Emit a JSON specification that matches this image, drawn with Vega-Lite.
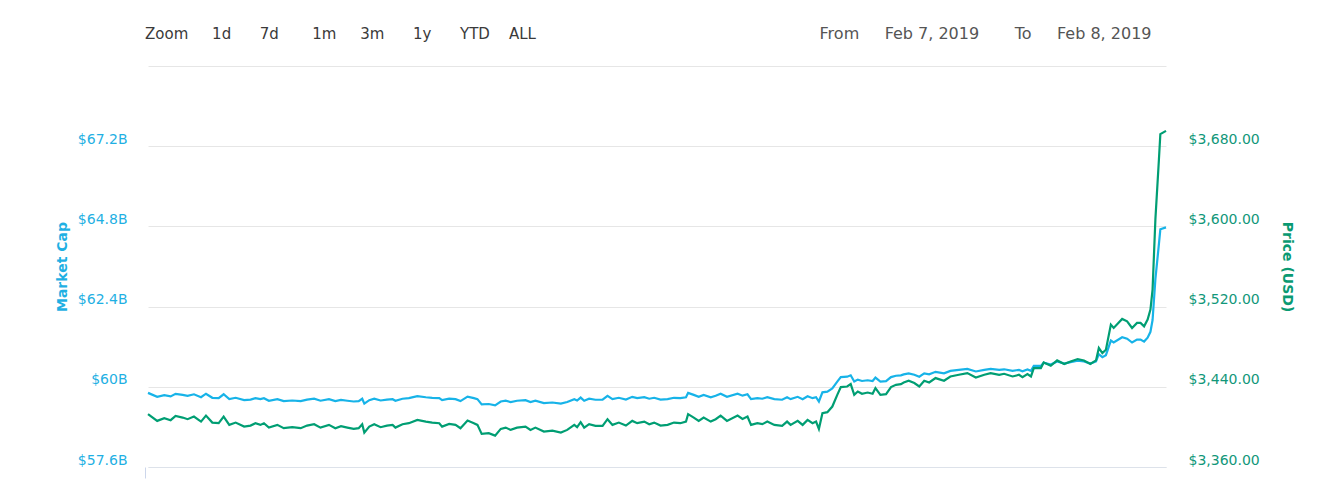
{
  "$schema": "https://vega.github.io/schema/vega-lite/v6.json",
  "width": 1018,
  "height": 401,
  "padding": {"left": 55, "top": 25, "right": 5, "bottom": 5},
  "background": "white",
  "config": {"view": {"stroke": null}, "font": "DejaVu Sans"},
  "title": {
    "text": "Zoom\u00a0\u00a0\u00a0\u00a0\u00a01d\u00a0\u00a0\u00a0\u00a0\u00a0\u00a07d\u00a0\u00a0\u00a0\u00a0\u00a0\u00a0\u00a01m\u00a0\u00a0\u00a0\u00a0\u00a03m\u00a0\u00a0\u00a0\u00a0\u00a0\u00a01y\u00a0\u00a0\u00a0\u00a0\u00a0\u00a0YTD\u00a0\u00a0\u00a0\u00a0ALL",
    "anchor": "start",
    "frame": "group",
    "offset": -17,
    "dx": -3,
    "font": "DejaVu Sans",
    "fontSize": 15,
    "fontWeight": "normal",
    "color": "#3a3a3a"
  },
  "data": {
    "values": [
      {"t": "2019-02-07T00:00", "price": 3412.7, "cap": 59.818},
      {"t": "2019-02-07T00:13", "price": 3406, "cap": 59.700},
      {"t": "2019-02-07T00:23", "price": 3408.7, "cap": 59.748},
      {"t": "2019-02-07T00:32", "price": 3406.7, "cap": 59.713},
      {"t": "2019-02-07T00:39", "price": 3411, "cap": 59.788},
      {"t": "2019-02-07T00:49", "price": 3409.3, "cap": 59.758},
      {"t": "2019-02-07T00:56", "price": 3407.7, "cap": 59.730},
      {"t": "2019-02-07T01:05", "price": 3410.3, "cap": 59.776},
      {"t": "2019-02-07T01:15", "price": 3405.3, "cap": 59.688},
      {"t": "2019-02-07T01:22", "price": 3411.3, "cap": 59.793},
      {"t": "2019-02-07T01:31", "price": 3404.3, "cap": 59.671},
      {"t": "2019-02-07T01:40", "price": 3403.7, "cap": 59.660},
      {"t": "2019-02-07T01:47", "price": 3410.3, "cap": 59.776},
      {"t": "2019-02-07T01:55", "price": 3402, "cap": 59.630},
      {"t": "2019-02-07T02:04", "price": 3404.3, "cap": 59.671},
      {"t": "2019-02-07T02:16", "price": 3400.3, "cap": 59.600},
      {"t": "2019-02-07T02:25", "price": 3401.3, "cap": 59.618},
      {"t": "2019-02-07T02:32", "price": 3403.7, "cap": 59.660},
      {"t": "2019-02-07T02:39", "price": 3402, "cap": 59.630},
      {"t": "2019-02-07T02:44", "price": 3403.7, "cap": 59.660},
      {"t": "2019-02-07T02:51", "price": 3399.3, "cap": 59.583},
      {"t": "2019-02-07T03:03", "price": 3402, "cap": 59.630},
      {"t": "2019-02-07T03:12", "price": 3398.7, "cap": 59.572},
      {"t": "2019-02-07T03:24", "price": 3399.7, "cap": 59.590},
      {"t": "2019-02-07T03:36", "price": 3398.7, "cap": 59.572},
      {"t": "2019-02-07T03:45", "price": 3401.3, "cap": 59.618},
      {"t": "2019-02-07T03:55", "price": 3402.7, "cap": 59.643},
      {"t": "2019-02-07T04:04", "price": 3399.3, "cap": 59.583},
      {"t": "2019-02-07T04:16", "price": 3402, "cap": 59.630},
      {"t": "2019-02-07T04:25", "price": 3398.7, "cap": 59.572},
      {"t": "2019-02-07T04:33", "price": 3400.7, "cap": 59.608},
      {"t": "2019-02-07T04:42", "price": 3399.3, "cap": 59.583},
      {"t": "2019-02-07T04:51", "price": 3398, "cap": 59.560},
      {"t": "2019-02-07T04:58", "price": 3398.7, "cap": 59.572},
      {"t": "2019-02-07T05:03", "price": 3402.7, "cap": 59.643},
      {"t": "2019-02-07T05:06", "price": 3394.3, "cap": 59.495},
      {"t": "2019-02-07T05:13", "price": 3400.3, "cap": 59.600},
      {"t": "2019-02-07T05:20", "price": 3402.7, "cap": 59.643},
      {"t": "2019-02-07T05:29", "price": 3399.7, "cap": 59.590},
      {"t": "2019-02-07T05:38", "price": 3401.3, "cap": 59.618},
      {"t": "2019-02-07T05:46", "price": 3402, "cap": 59.630},
      {"t": "2019-02-07T05:50", "price": 3399.3, "cap": 59.583},
      {"t": "2019-02-07T06:00", "price": 3402.7, "cap": 59.643},
      {"t": "2019-02-07T06:09", "price": 3403.7, "cap": 59.660},
      {"t": "2019-02-07T06:21", "price": 3407, "cap": 59.718},
      {"t": "2019-02-07T06:33", "price": 3405.3, "cap": 59.688},
      {"t": "2019-02-07T06:42", "price": 3404.3, "cap": 59.671},
      {"t": "2019-02-07T06:52", "price": 3403.7, "cap": 59.660},
      {"t": "2019-02-07T06:56", "price": 3400.3, "cap": 59.600},
      {"t": "2019-02-07T07:06", "price": 3403, "cap": 59.648},
      {"t": "2019-02-07T07:15", "price": 3402, "cap": 59.630},
      {"t": "2019-02-07T07:22", "price": 3398.7, "cap": 59.572},
      {"t": "2019-02-07T07:32", "price": 3406.3, "cap": 59.706},
      {"t": "2019-02-07T07:41", "price": 3403.7, "cap": 59.660},
      {"t": "2019-02-07T07:46", "price": 3402, "cap": 59.630},
      {"t": "2019-02-07T07:52", "price": 3393, "cap": 59.473},
      {"t": "2019-02-07T08:02", "price": 3393.7, "cap": 59.485},
      {"t": "2019-02-07T08:11", "price": 3391.3, "cap": 59.443},
      {"t": "2019-02-07T08:19", "price": 3398, "cap": 59.560},
      {"t": "2019-02-07T08:26", "price": 3399.3, "cap": 59.583},
      {"t": "2019-02-07T08:33", "price": 3397, "cap": 59.543},
      {"t": "2019-02-07T08:42", "price": 3399.3, "cap": 59.583},
      {"t": "2019-02-07T08:54", "price": 3400.3, "cap": 59.600},
      {"t": "2019-02-07T09:01", "price": 3397, "cap": 59.543},
      {"t": "2019-02-07T09:08", "price": 3399.3, "cap": 59.583},
      {"t": "2019-02-07T09:20", "price": 3395.3, "cap": 59.513},
      {"t": "2019-02-07T09:32", "price": 3396.3, "cap": 59.530},
      {"t": "2019-02-07T09:44", "price": 3394.3, "cap": 59.495},
      {"t": "2019-02-07T09:53", "price": 3397, "cap": 59.543},
      {"t": "2019-02-07T10:03", "price": 3402, "cap": 59.630},
      {"t": "2019-02-07T10:07", "price": 3399.7, "cap": 59.590},
      {"t": "2019-02-07T10:12", "price": 3404.7, "cap": 59.678},
      {"t": "2019-02-07T10:17", "price": 3399.3, "cap": 59.583},
      {"t": "2019-02-07T10:24", "price": 3402.7, "cap": 59.643},
      {"t": "2019-02-07T10:33", "price": 3401, "cap": 59.613},
      {"t": "2019-02-07T10:43", "price": 3401, "cap": 59.613},
      {"t": "2019-02-07T10:50", "price": 3407.7, "cap": 59.730},
      {"t": "2019-02-07T10:57", "price": 3402, "cap": 59.630},
      {"t": "2019-02-07T11:06", "price": 3404.3, "cap": 59.671},
      {"t": "2019-02-07T11:16", "price": 3401.3, "cap": 59.618},
      {"t": "2019-02-07T11:25", "price": 3406, "cap": 59.700},
      {"t": "2019-02-07T11:32", "price": 3403.7, "cap": 59.660},
      {"t": "2019-02-07T11:42", "price": 3405.3, "cap": 59.688},
      {"t": "2019-02-07T11:49", "price": 3402.7, "cap": 59.643},
      {"t": "2019-02-07T11:56", "price": 3404.3, "cap": 59.671},
      {"t": "2019-02-07T12:05", "price": 3401.3, "cap": 59.618},
      {"t": "2019-02-07T12:15", "price": 3402, "cap": 59.630},
      {"t": "2019-02-07T12:24", "price": 3404.3, "cap": 59.671},
      {"t": "2019-02-07T12:33", "price": 3403.7, "cap": 59.660},
      {"t": "2019-02-07T12:41", "price": 3405.3, "cap": 59.688},
      {"t": "2019-02-07T12:44", "price": 3412.7, "cap": 59.818},
      {"t": "2019-02-07T12:52", "price": 3409.3, "cap": 59.758},
      {"t": "2019-02-07T12:59", "price": 3406, "cap": 59.700},
      {"t": "2019-02-07T13:06", "price": 3409.3, "cap": 59.758},
      {"t": "2019-02-07T13:16", "price": 3405.3, "cap": 59.688},
      {"t": "2019-02-07T13:23", "price": 3407.7, "cap": 59.730},
      {"t": "2019-02-07T13:30", "price": 3411.3, "cap": 59.793},
      {"t": "2019-02-07T13:39", "price": 3406, "cap": 59.700},
      {"t": "2019-02-07T13:54", "price": 3411.3, "cap": 59.793},
      {"t": "2019-02-07T14:01", "price": 3408, "cap": 59.735},
      {"t": "2019-02-07T14:08", "price": 3410.3, "cap": 59.776},
      {"t": "2019-02-07T14:13", "price": 3402, "cap": 59.630},
      {"t": "2019-02-07T14:22", "price": 3403.7, "cap": 59.660},
      {"t": "2019-02-07T14:29", "price": 3402.7, "cap": 59.643},
      {"t": "2019-02-07T14:36", "price": 3405.3, "cap": 59.688},
      {"t": "2019-02-07T14:46", "price": 3402, "cap": 59.630},
      {"t": "2019-02-07T14:57", "price": 3401, "cap": 59.613},
      {"t": "2019-02-07T15:04", "price": 3405.3, "cap": 59.688},
      {"t": "2019-02-07T15:09", "price": 3402, "cap": 59.630},
      {"t": "2019-02-07T15:19", "price": 3406, "cap": 59.700},
      {"t": "2019-02-07T15:26", "price": 3402, "cap": 59.630},
      {"t": "2019-02-07T15:33", "price": 3407, "cap": 59.718},
      {"t": "2019-02-07T15:40", "price": 3403.7, "cap": 59.660},
      {"t": "2019-02-07T15:45", "price": 3405.3, "cap": 59.688},
      {"t": "2019-02-07T15:49", "price": 3398, "cap": 59.560},
      {"t": "2019-02-07T15:54", "price": 3413.7, "cap": 59.835},
      {"t": "2019-02-07T16:01", "price": 3414.7, "cap": 59.853},
      {"t": "2019-02-07T16:08", "price": 3420.3, "cap": 59.951},
      {"t": "2019-02-07T16:15", "price": 3432, "cap": 60.156},
      {"t": "2019-02-07T16:20", "price": 3439.7, "cap": 60.291},
      {"t": "2019-02-07T16:29", "price": 3440.3, "cap": 60.302},
      {"t": "2019-02-07T16:34", "price": 3442.7, "cap": 60.344},
      {"t": "2019-02-07T16:39", "price": 3432, "cap": 60.156},
      {"t": "2019-02-07T16:44", "price": 3435.3, "cap": 60.214},
      {"t": "2019-02-07T16:50", "price": 3433, "cap": 60.174},
      {"t": "2019-02-07T16:58", "price": 3434.3, "cap": 60.196},
      {"t": "2019-02-07T17:05", "price": 3433, "cap": 60.174},
      {"t": "2019-02-07T17:09", "price": 3438.7, "cap": 60.274},
      {"t": "2019-02-07T17:16", "price": 3432, "cap": 60.156},
      {"t": "2019-02-07T17:24", "price": 3432.7, "cap": 60.168},
      {"t": "2019-02-07T17:31", "price": 3439.7, "cap": 60.291},
      {"t": "2019-02-07T17:38", "price": 3442, "cap": 60.331},
      {"t": "2019-02-07T17:45", "price": 3442.7, "cap": 60.344},
      {"t": "2019-02-07T17:49", "price": 3444.3, "cap": 60.372},
      {"t": "2019-02-07T17:56", "price": 3446, "cap": 60.402},
      {"t": "2019-02-07T18:04", "price": 3443.7, "cap": 60.361},
      {"t": "2019-02-07T18:11", "price": 3440.3, "cap": 60.302},
      {"t": "2019-02-07T18:18", "price": 3446, "cap": 60.402},
      {"t": "2019-02-07T18:25", "price": 3444.3, "cap": 60.372},
      {"t": "2019-02-07T18:34", "price": 3448.7, "cap": 60.449},
      {"t": "2019-02-07T18:46", "price": 3446, "cap": 60.402},
      {"t": "2019-02-07T18:55", "price": 3450.3, "cap": 60.477},
      {"t": "2019-02-07T19:07", "price": 3452, "cap": 60.507},
      {"t": "2019-02-07T19:19", "price": 3453.7, "cap": 60.537},
      {"t": "2019-02-07T19:31", "price": 3449.3, "cap": 60.459},
      {"t": "2019-02-07T19:43", "price": 3452, "cap": 60.507},
      {"t": "2019-02-07T19:52", "price": 3453.7, "cap": 60.537},
      {"t": "2019-02-07T20:04", "price": 3452, "cap": 60.507},
      {"t": "2019-02-07T20:11", "price": 3453, "cap": 60.524},
      {"t": "2019-02-07T20:23", "price": 3450.3, "cap": 60.477},
      {"t": "2019-02-07T20:32", "price": 3452, "cap": 60.507},
      {"t": "2019-02-07T20:37", "price": 3449.7, "cap": 60.466},
      {"t": "2019-02-07T20:44", "price": 3452.7, "cap": 60.519},
      {"t": "2019-02-07T20:49", "price": 3450.3, "cap": 60.477},
      {"t": "2019-02-07T20:53", "price": 3458.7, "cap": 60.624},
      {"t": "2019-02-07T21:03", "price": 3458.7, "cap": 60.624},
      {"t": "2019-02-07T21:07", "price": 3464.3, "cap": 60.722},
      {"t": "2019-02-07T21:17", "price": 3461, "cap": 60.664},
      {"t": "2019-02-07T21:26", "price": 3466.3, "cap": 60.757},
      {"t": "2019-02-07T21:36", "price": 3462.7, "cap": 60.694},
      {"t": "2019-02-07T21:45", "price": 3465.3, "cap": 60.740},
      {"t": "2019-02-07T21:55", "price": 3467.7, "cap": 60.782},
      {"t": "2019-02-07T22:04", "price": 3466.3, "cap": 60.757},
      {"t": "2019-02-07T22:13", "price": 3462.7, "cap": 60.694},
      {"t": "2019-02-07T22:21", "price": 3466.3, "cap": 60.757},
      {"t": "2019-02-07T22:25", "price": 3478.7, "cap": 60.975},
      {"t": "2019-02-07T22:30", "price": 3473.7, "cap": 60.887},
      {"t": "2019-02-07T22:35", "price": 3477, "cap": 60.945},
      {"t": "2019-02-07T22:42", "price": 3502, "cap": 61.383},
      {"t": "2019-02-07T22:46", "price": 3498.7, "cap": 61.325},
      {"t": "2019-02-07T22:58", "price": 3507.7, "cap": 61.483},
      {"t": "2019-02-07T23:05", "price": 3505.3, "cap": 61.441},
      {"t": "2019-02-07T23:12", "price": 3498.7, "cap": 61.325},
      {"t": "2019-02-07T23:19", "price": 3503.7, "cap": 61.413},
      {"t": "2019-02-07T23:24", "price": 3503.7, "cap": 61.413},
      {"t": "2019-02-07T23:29", "price": 3500.3, "cap": 61.353},
      {"t": "2019-02-07T23:34", "price": 3507, "cap": 61.471},
      {"t": "2019-02-07T23:38", "price": 3517, "cap": 61.646},
      {"t": "2019-02-07T23:41", "price": 3537, "cap": 61.997},
      {"t": "2019-02-07T23:45", "price": 3607, "cap": 63.224},
      {"t": "2019-02-07T23:50", "price": 3667, "cap": 64.275},
      {"t": "2019-02-07T23:52", "price": 3692, "cap": 64.713},
      {"t": "2019-02-08T00:00", "price": 3695.3, "cap": 64.771}
    ]
  },
  "layer": [
    {
      "mark": {"type": "line", "color": "#17b3e8", "strokeWidth": 2.2},
      "encoding": {
        "x": {
          "field": "t",
          "type": "temporal",
          "scale": {"nice": false},
          "axis": {
            "orient": "bottom",
            "title": null,
            "labels": false,
            "grid": false,
            "domain": true,
            "domainColor": "#dde2ea",
            "ticks": true,
            "tickColor": "#ccd6eb",
            "tickSize": 11,
            "tickOffset": -3,
            "values": [{"year": 2019, "month": 2, "date": 7}]
          }
        },
        "y": {
          "field": "cap",
          "type": "quantitative",
          "scale": {"domain": [57.6, 69.6], "nice": false, "zero": false},
          "axis": {
            "orient": "left",
            "values": [57.6, 60, 62.4, 64.8, 67.2, 69.6],
            "labelExpr": "datum.value > 69 ? '' : '$' + format(datum.value, '.1~f') + 'B'",
            "grid": true,
            "gridColor": "#e6e6e6",
            "gridWidth": 1,
            "domain": false,
            "ticks": false,
            "labelColor": "#1fb0e3",
            "labelFont": "DejaVu Sans",
            "labelFontSize": 14,
            "labelPadding": 21,
            "labelOffset": -7,
            "labelBaseline": "middle",
            "title": "Market Cap",
            "titleColor": "#1fb0e3",
            "titleFont": "DejaVu Sans",
            "titleFontSize": 14,
            "titleFontWeight": "bold",
            "titlePadding": 8
          }
        }
      }
    },
    {
      "mark": {"type": "line", "color": "#009e73", "strokeWidth": 2.2},
      "encoding": {
        "x": {
          "field": "t",
          "type": "temporal",
          "axis": {
            "orient": "top",
            "labels": false,
            "ticks": false,
            "domain": false,
            "grid": false,
            "title": "From\u00a0\u00a0\u00a0\u00a0\u00a0Feb 7, 2019\u00a0\u00a0\u00a0\u00a0\u00a0\u00a0\u00a0To\u00a0\u00a0\u00a0\u00a0\u00a0Feb 8, 2019",
            "titleX": 1003,
            "titleAlign": "right",
            "titleAnchor": "end",
            "titleFont": "DejaVu Sans",
            "titleFontSize": 16,
            "titleFontWeight": "normal",
            "titleColor": "#555555",
            "titlePadding": 25
          }
        },
        "y": {
          "field": "price",
          "type": "quantitative",
          "scale": {"domain": [3360, 3760], "nice": false, "zero": false},
          "axis": {
            "orient": "right",
            "values": [3360, 3440, 3520, 3600, 3680, 3760],
            "labelExpr": "datum.value > 3700 ? '' : '$' + format(datum.value, ',.2f')",
            "grid": false,
            "domain": false,
            "ticks": false,
            "labelColor": "#12977a",
            "labelFont": "DejaVu Sans",
            "labelFontSize": 14,
            "labelPadding": 22,
            "labelOffset": -7,
            "labelBaseline": "middle",
            "title": "Price (USD)",
            "titleColor": "#0a9a72",
            "titleFont": "DejaVu Sans",
            "titleFontSize": 14,
            "titleFontWeight": "bold",
            "titlePadding": 20
          }
        }
      }
    }
  ],
  "resolve": {
    "scale": {"y": "independent"},
    "axis": {"x": "independent", "y": "independent"}
  }
}
